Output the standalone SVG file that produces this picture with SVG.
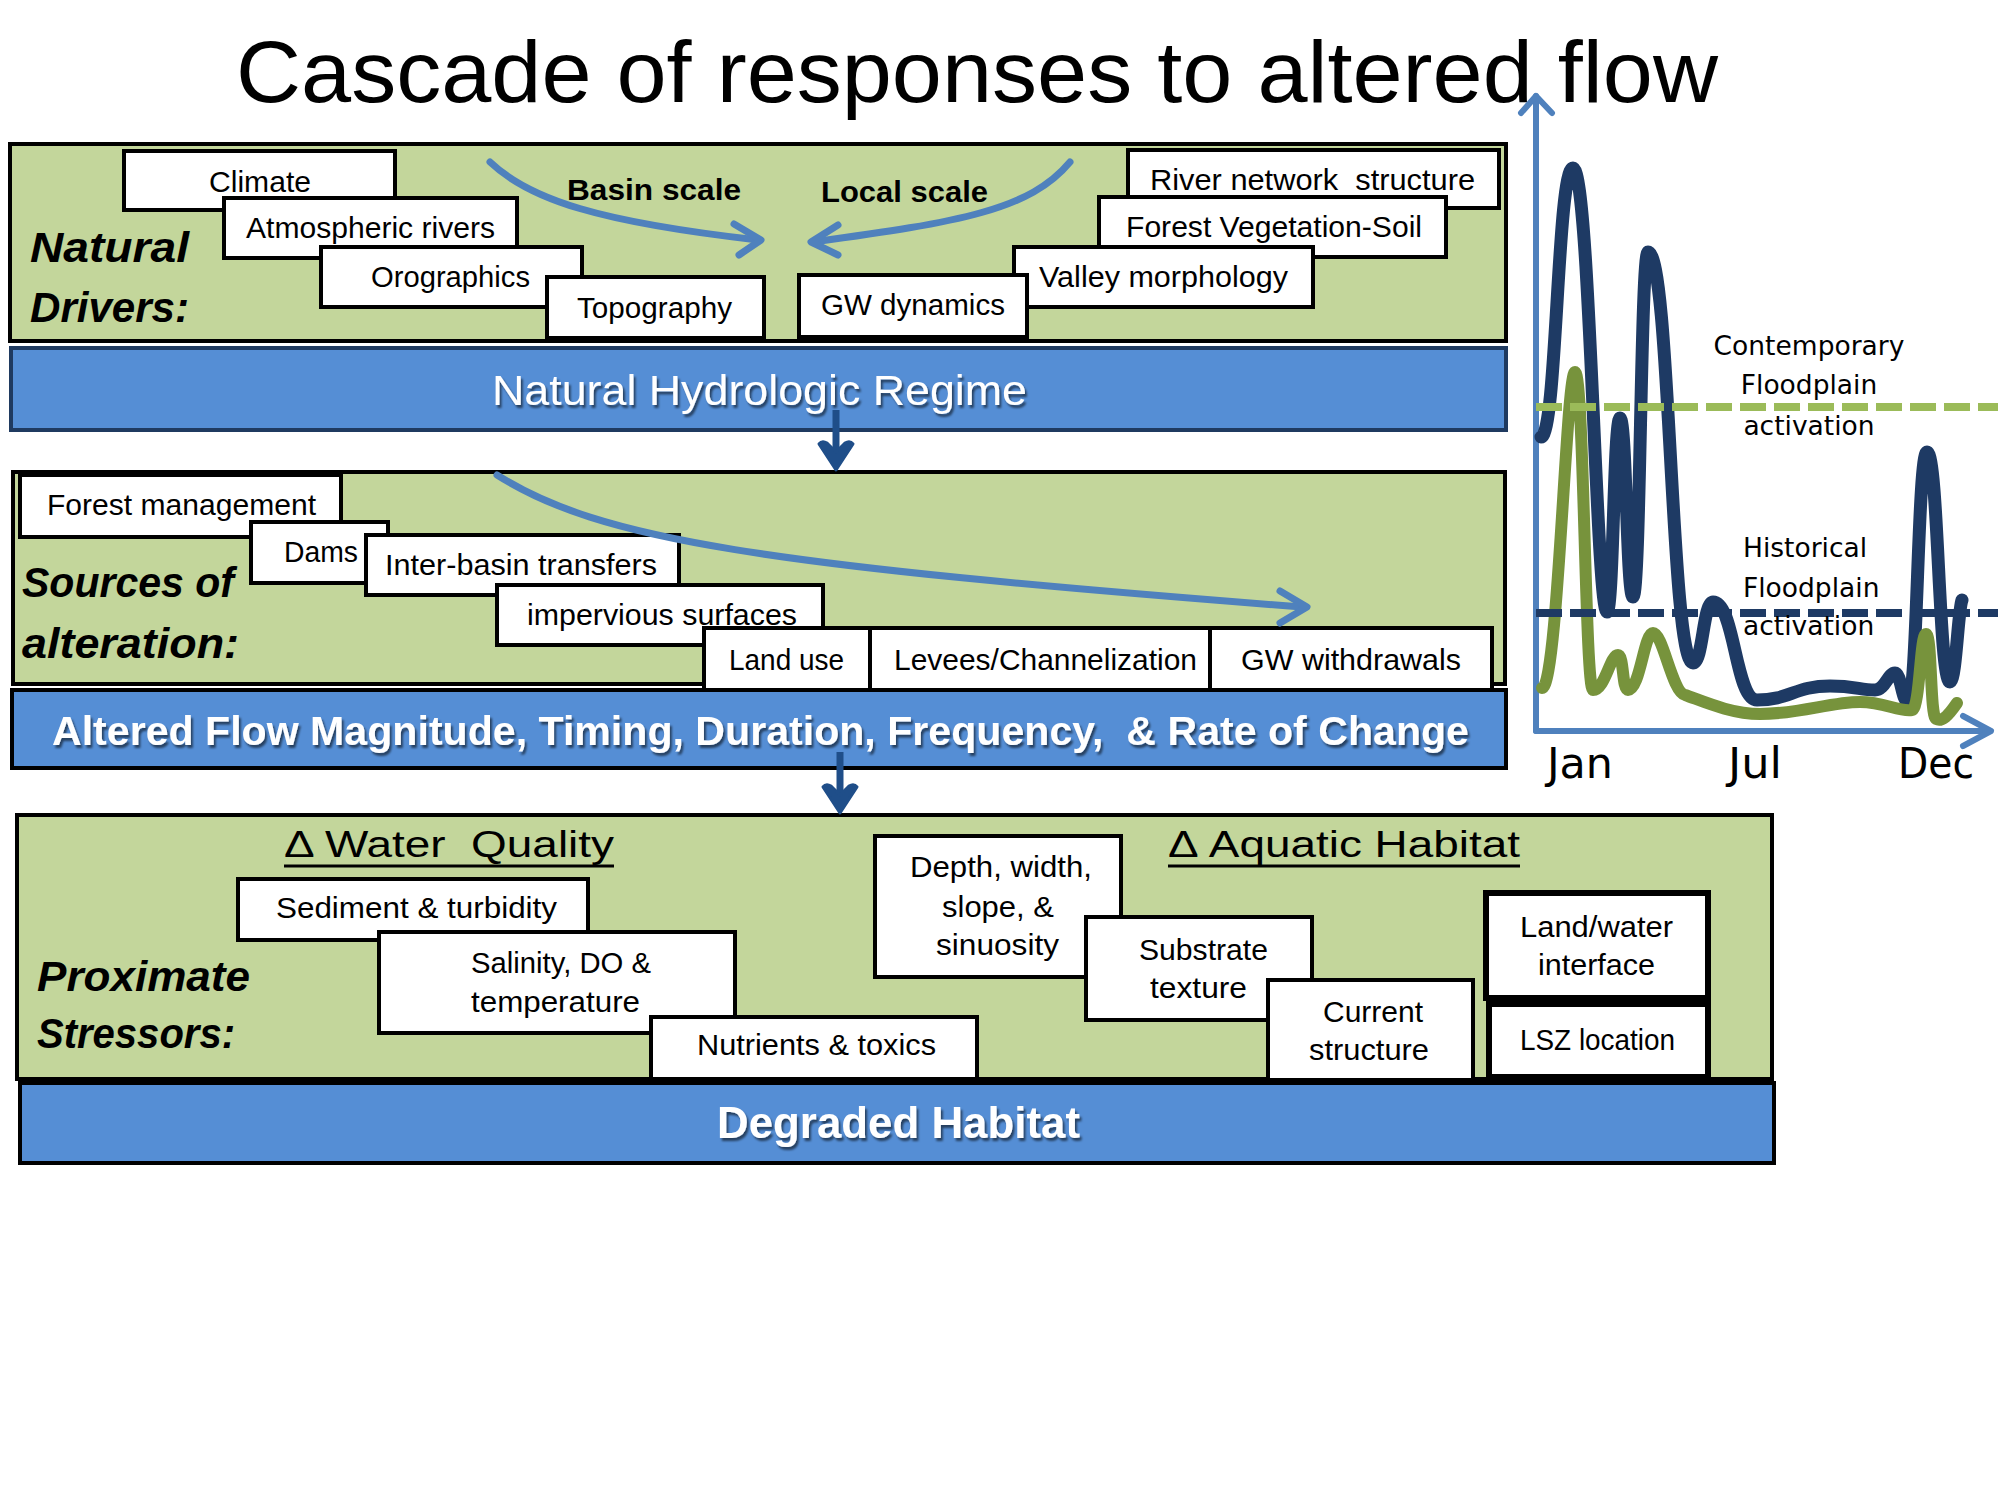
<svg xmlns="http://www.w3.org/2000/svg" width="2000" height="1500" viewBox="0 0 2000 1500">
<defs>
<style>
.panel{fill:#c3d69b;stroke:#000;stroke-width:4}
.bar{fill:#558ed5;stroke:#000;stroke-width:4}
.bar1{stroke:#1f3a60}
.box{fill:#fff;stroke:#000;stroke-width:4}
.boxb{fill:#fff;stroke:#000;stroke-width:6}
.lbl{font-family:"Liberation Sans",Arial,sans-serif;font-size:29px;fill:#000}
.cat{font-family:"Liberation Sans",Arial,sans-serif;font-size:42px;font-weight:bold;font-style:italic;fill:#000}
.scale{font-family:"Liberation Sans",Arial,sans-serif;font-size:30px;font-weight:bold;fill:#000}
.head{font-family:"Liberation Sans",Arial,sans-serif;font-size:36px;fill:#000}
.bt{font-family:"Liberation Sans",Arial,sans-serif;fill:#fff;filter:url(#sh)}
.ct{font-family:"DejaVu Sans",Verdana,sans-serif;font-size:26.5px;fill:#000}
.mt{font-family:"DejaVu Sans",Verdana,sans-serif;font-size:43px;fill:#000}
.curv{fill:none;stroke:#4f81bd;stroke-width:7;stroke-linecap:round;stroke-linejoin:round}
.down{fill:none;stroke:#1f4e89;stroke-width:7}
.axis{fill:none;stroke:#4f81bd;stroke-width:6;stroke-linecap:round;stroke-linejoin:round}
</style>
<filter id="sh" x="-5%" y="-30%" width="110%" height="170%">
<feDropShadow dx="2" dy="3" stdDeviation="1.3" flood-color="#000" flood-opacity="0.55"/>
</filter>
</defs>
<rect width="2000" height="1500" fill="#fff"/>

<text x="236" y="102" font-family="'Liberation Sans',Arial,sans-serif" font-size="88" textLength="1482" lengthAdjust="spacingAndGlyphs">Cascade of responses to altered flow</text>

<!-- Panel 1: Natural drivers -->
<g id="panel-natural">
<rect class="panel" x="10" y="144" width="1496" height="197"/>
<text class="cat" x="30" y="262" textLength="159" lengthAdjust="spacingAndGlyphs">Natural</text>
<text class="cat" x="30" y="322" textLength="159" lengthAdjust="spacingAndGlyphs">Drivers:</text>
<text class="scale" x="567" y="200" textLength="174" lengthAdjust="spacingAndGlyphs">Basin scale</text>
<text class="scale" x="821" y="202" textLength="167" lengthAdjust="spacingAndGlyphs">Local scale</text>
</g>
<g id="climate"><rect class="box" x="124" y="151" width="271" height="59"/><text class="lbl" x="209" y="192" textLength="102" lengthAdjust="spacingAndGlyphs">Climate</text></g>
<g id="atmospheric-rivers"><rect class="box" x="224" y="198" width="293" height="60"/><text class="lbl" x="246" y="238" textLength="249" lengthAdjust="spacingAndGlyphs">Atmospheric rivers</text></g>
<g id="orographics"><rect class="box" x="321" y="247" width="261" height="60"/><text class="lbl" x="371" y="287" textLength="159" lengthAdjust="spacingAndGlyphs">Orographics</text></g>
<g id="topography"><rect class="box" x="547" y="277" width="217" height="61"/><text class="lbl" x="577" y="318" textLength="155" lengthAdjust="spacingAndGlyphs">Topography</text></g>
<g id="river-network"><rect class="box" x="1128" y="150" width="371" height="58"/><text class="lbl" x="1150" y="190" textLength="325" lengthAdjust="spacingAndGlyphs" xml:space="preserve">River network  structure</text></g>
<g id="forest-vegetation"><rect class="box" x="1099" y="197" width="347" height="60"/><text class="lbl" x="1126" y="237" textLength="296" lengthAdjust="spacingAndGlyphs">Forest Vegetation-Soil</text></g>
<g id="valley-morphology"><rect class="box" x="1014" y="247" width="299" height="60"/><text class="lbl" x="1039" y="287" textLength="249" lengthAdjust="spacingAndGlyphs">Valley morphology</text></g>
<g id="gw-dynamics"><rect class="box" x="799" y="275" width="228" height="62"/><text class="lbl" x="821" y="315" textLength="184" lengthAdjust="spacingAndGlyphs">GW dynamics</text></g>

<g id="bar-natural-regime">
<rect class="bar bar1" x="11" y="348" width="1495" height="82"/>
<text class="bt" x="492" y="405" font-size="42" textLength="535" lengthAdjust="spacingAndGlyphs">Natural Hydrologic Regime</text>
</g>

<!-- Panel 2: Sources of alteration -->
<g id="panel-sources">
<rect class="panel" x="13" y="472" width="1492" height="212"/>
<text class="cat" x="22" y="597" textLength="212" lengthAdjust="spacingAndGlyphs">Sources of</text>
<text class="cat" x="22" y="658" textLength="217" lengthAdjust="spacingAndGlyphs">alteration:</text>
</g>
<g id="forest-management"><rect class="box" x="20" y="475" width="321" height="62"/><text class="lbl" x="47" y="515" textLength="269" lengthAdjust="spacingAndGlyphs">Forest management</text></g>
<g id="dams"><rect class="box" x="251" y="522" width="137" height="61"/><text class="lbl" x="284" y="562" textLength="74" lengthAdjust="spacingAndGlyphs">Dams</text></g>
<g id="inter-basin"><rect class="box" x="366" y="535" width="313" height="60"/><text class="lbl" x="385" y="575" textLength="272" lengthAdjust="spacingAndGlyphs">Inter-basin transfers</text></g>
<g id="impervious"><rect class="box" x="497" y="585" width="326" height="60"/><text class="lbl" x="527" y="625" textLength="270" lengthAdjust="spacingAndGlyphs">impervious surfaces</text></g>

<g id="bar-altered-flow">
<rect class="bar" x="12" y="690" width="1494" height="78"/>
<text class="bt" x="52" y="745" font-size="40" font-weight="bold" textLength="1417" lengthAdjust="spacingAndGlyphs" xml:space="preserve">Altered Flow Magnitude, Timing, Duration, Frequency,  &amp; Rate of Change</text>
</g>
<g id="land-use"><rect class="box" x="704" y="628" width="166" height="62"/><text class="lbl" x="729" y="670" textLength="115" lengthAdjust="spacingAndGlyphs">Land use</text></g>
<g id="levees"><rect class="box" x="870" y="628" width="340" height="62"/><text class="lbl" x="894" y="670" textLength="303" lengthAdjust="spacingAndGlyphs">Levees/Channelization</text></g>
<g id="gw-withdrawals"><rect class="box" x="1210" y="628" width="282" height="62"/><text class="lbl" x="1241" y="670" textLength="220" lengthAdjust="spacingAndGlyphs">GW withdrawals</text></g>

<!-- Panel 3: Proximate stressors -->
<g id="panel-stressors">
<rect class="panel" x="17" y="815" width="1755" height="264"/>
<text class="cat" x="37" y="991" textLength="213" lengthAdjust="spacingAndGlyphs">Proximate</text>
<text class="cat" x="37" y="1048" textLength="198" lengthAdjust="spacingAndGlyphs">Stressors:</text>
<text class="head" x="284" y="857" textLength="330" lengthAdjust="spacingAndGlyphs" xml:space="preserve">Δ Water  Quality</text>
<line x1="284" y1="866" x2="614" y2="866" stroke="#000" stroke-width="3"/>
<text class="head" x="1168" y="857" textLength="352" lengthAdjust="spacingAndGlyphs">Δ Aquatic Habitat</text>
<line x1="1168" y1="866" x2="1520" y2="866" stroke="#000" stroke-width="3"/>
</g>
<g id="sediment"><rect class="box" x="238" y="879" width="350" height="61"/><text class="lbl" x="276" y="918" textLength="281" lengthAdjust="spacingAndGlyphs">Sediment &amp; turbidity</text></g>
<g id="salinity"><rect class="box" x="379" y="932" width="356" height="101"/><text class="lbl" x="471" y="973" textLength="180" lengthAdjust="spacingAndGlyphs">Salinity, DO &amp;</text><text class="lbl" x="471" y="1012" textLength="169" lengthAdjust="spacingAndGlyphs">temperature</text></g>
<g id="nutrients"><rect class="box" x="651" y="1017" width="326" height="62"/><text class="lbl" x="697" y="1055" textLength="239" lengthAdjust="spacingAndGlyphs">Nutrients &amp; toxics</text></g>
<g id="depth"><rect class="box" x="875" y="836" width="246" height="141"/><text class="lbl" x="910" y="877" textLength="182" lengthAdjust="spacingAndGlyphs">Depth, width,</text><text class="lbl" x="942" y="917" textLength="112" lengthAdjust="spacingAndGlyphs">slope, &amp;</text><text class="lbl" x="936" y="955" textLength="123" lengthAdjust="spacingAndGlyphs">sinuosity</text></g>
<g id="substrate"><rect class="box" x="1086" y="917" width="226" height="103"/><text class="lbl" x="1139" y="960" textLength="129" lengthAdjust="spacingAndGlyphs">Substrate</text><text class="lbl" x="1150" y="998" textLength="97" lengthAdjust="spacingAndGlyphs">texture</text></g>
<g id="current"><rect class="box" x="1268" y="980" width="205" height="100"/><text class="lbl" x="1323" y="1022" textLength="100" lengthAdjust="spacingAndGlyphs">Current</text><text class="lbl" x="1309" y="1060" textLength="120" lengthAdjust="spacingAndGlyphs">structure</text></g>
<g id="land-water"><rect class="boxb" x="1486" y="893" width="222" height="105"/><text class="lbl" x="1520" y="937" textLength="153" lengthAdjust="spacingAndGlyphs">Land/water</text><text class="lbl" x="1538" y="975" textLength="117" lengthAdjust="spacingAndGlyphs">interface</text></g>
<g id="lsz"><rect class="boxb" x="1489" y="1004" width="219" height="73"/><text class="lbl" x="1520" y="1050" textLength="155" lengthAdjust="spacingAndGlyphs">LSZ location</text></g>

<g id="bar-degraded">
<rect class="bar" x="20" y="1083" width="1754" height="80"/>
<text class="bt" x="717" y="1138" font-size="44" font-weight="bold" textLength="363" lengthAdjust="spacingAndGlyphs">Degraded Habitat</text>
</g>

<!-- Connectors -->
<g id="connectors">
<path class="curv" d="M490,162 C530,200 600,222 758,240"/>
<polyline class="curv" points="734,224 761,240 739,255"/>
<path class="curv" d="M1070,162 C1030,210 960,222 813,242"/>
<polyline class="curv" points="838,225 811,242 838,255"/>
<path class="curv" d="M497,475 C600,540 760,565 1302,607"/>
<polyline class="curv" points="1280,591 1307,607 1280,623"/>
<line class="down" x1="836" y1="410" x2="836" y2="452"/>
<path d="M836,470 L819,444 Q822,440 827,443 L836,452 L845,443 Q850,440 853,444 Z" fill="#1f4e89" stroke="#1f4e89" stroke-width="3" stroke-linejoin="round"/>
<line class="down" x1="840" y1="752" x2="840" y2="795"/>
<path d="M840,813 L823,787 Q826,783 831,786 L840,795 L849,786 Q854,783 857,787 Z" fill="#1f4e89" stroke="#1f4e89" stroke-width="3" stroke-linejoin="round"/>
</g>

<!-- Hydrograph -->
<g id="hydrograph">
<polyline class="axis" points="1536,731 1536,96"/>
<polyline class="axis" points="1521,113 1536,96 1552,113"/>
<polyline class="axis" points="1536,731 1990,731"/>
<polyline class="axis" points="1963,716 1991,731 1963,746"/>
<path fill="none" stroke="#1e3a64" stroke-width="13" stroke-linecap="round" stroke-linejoin="round" d="M1541,437 C1557,437 1557,168 1573,168 C1590,168 1596,612 1607,612 C1613.5,612 1613.5,418 1620,418 C1626.5,418 1626.5,597 1633,597 C1640.5,597 1640.5,252 1648,252 C1670.5,252 1670.5,663 1693,663 C1703,663 1703,602 1713,602 C1735,602 1735,700 1757,700 C1790,700 1795,686 1830,686 C1855,686 1860,690 1875,690 C1885,690 1888,673 1895,673 C1901,673 1902,702 1908,702 C1917.5,702 1917.5,452 1927,452 C1938.5,452 1938.5,682 1950,682 C1956,682 1958,610 1962,600"/>
<path fill="none" stroke="#77933c" stroke-width="12" stroke-linecap="round" stroke-linejoin="round" d="M1542,688 C1558,688 1566,372 1575,372 C1584,372 1585,690 1593,690 C1605,690 1610,655 1618,655 C1624,655 1622,690 1628,690 C1640,690 1644,633 1653,633 C1663,633 1672,692 1685,695 C1700,700 1730,714 1760,714 C1800,714 1830,702 1860,702 C1885,702 1898,712 1912,710 C1920,709 1920,634 1926,634 C1932,634 1930,716 1936,719 C1942,722 1948,716 1957,703"/>
<line x1="1536" y1="407" x2="1998" y2="407" stroke="#9bbb59" stroke-width="8" stroke-dasharray="26 8"/>
<line x1="1536" y1="613" x2="1998" y2="613" stroke="#1e3a64" stroke-width="8" stroke-dasharray="26 8"/>
<text class="ct" x="1809" y="355" text-anchor="middle">Contemporary</text>
<text class="ct" x="1809" y="394" text-anchor="middle">Floodplain</text>
<text class="ct" x="1809" y="435" text-anchor="middle">activation</text>
<text class="ct" x="1743" y="557">Historical</text>
<text class="ct" x="1743" y="597">Floodplain</text>
<text class="ct" x="1743" y="635">activation</text>
<text class="mt" x="1547" y="778" textLength="66" lengthAdjust="spacingAndGlyphs">Jan</text>
<text class="mt" x="1728" y="778" textLength="54" lengthAdjust="spacingAndGlyphs">Jul</text>
<text class="mt" x="1898" y="778" textLength="76" lengthAdjust="spacingAndGlyphs">Dec</text>
</g>
</svg>
